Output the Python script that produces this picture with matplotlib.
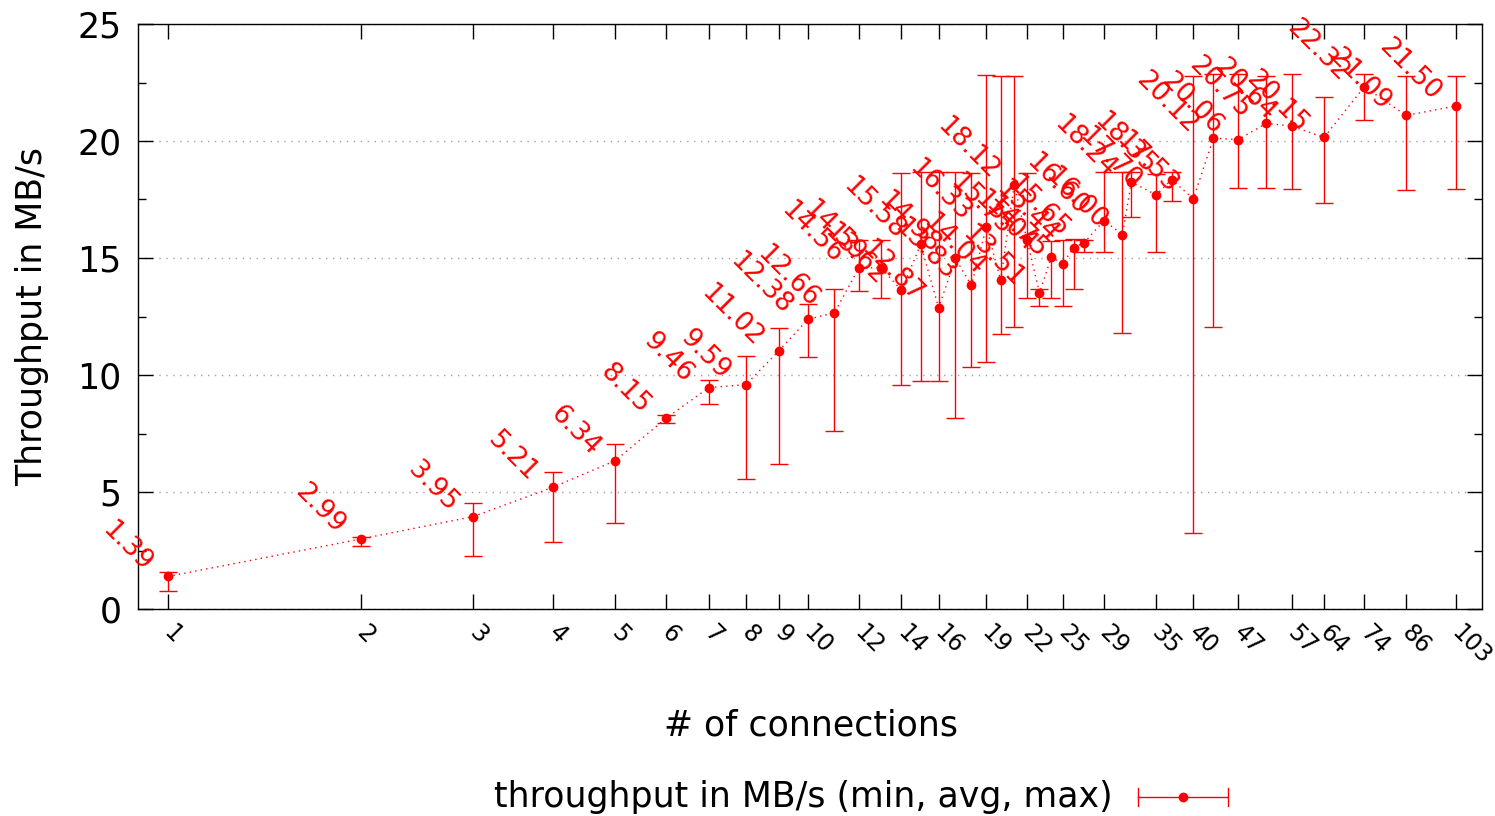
import matplotlib
matplotlib.use("Agg")
import matplotlib.pyplot as plt
import matplotlib.transforms as mtransforms
from matplotlib.lines import Line2D
import numpy as np

# ---- data ----
connections = [1, 2, 3, 4, 5, 6, 7, 8, 9, 10, 11, 12, 13, 14, 15, 16, 17, 18, 19, 20,
               21, 22, 23, 24, 25, 26, 27, 29, 31, 32, 35, 37, 40, 43, 47, 52, 57, 64,
               74, 86, 103]
avg_tp = [1.39, 2.99, 3.95, 5.21, 6.34, 8.15, 9.46, 9.59, 11.02, 12.38, 12.66, 14.56,
          14.59, 13.62, 15.58, 12.87, 14.98, 13.83, 16.33, 14.04, 18.12, 15.75, 13.51,
          15.04, 14.75, 15.44, 15.65, 16.60, 16.00, 18.24, 17.70, 18.35, 17.53, 20.12,
          20.06, 20.75, 20.64, 20.15, 22.32, 21.09, 21.50]
min_tp = [0.77, 2.71, 2.25, 2.85, 3.68, 7.94, 8.75, 5.54, 6.21, 10.75, 7.60, 13.60,
          13.28, 9.56, 9.76, 9.76, 8.18, 10.36, 10.54, 11.75, 12.04, 13.30, 12.95,
          13.28, 12.96, 13.68, 15.24, 15.27, 11.78, 16.77, 15.27, 17.42, 3.26, 12.04,
          17.98, 17.98, 17.95, 17.35, 20.90, 17.91, 17.96]
max_tp = [1.60, 3.09, 4.54, 5.84, 7.06, 8.28, 9.80, 10.80, 12.02, 13.05, 13.66, 15.77,
          15.77, 18.62, 18.66, 18.66, 18.69, 18.62, 22.82, 22.79, 22.79, 18.62, 13.69,
          15.74, 15.77, 15.80, 15.77, 18.66, 18.66, 18.69, 18.59, 18.69, 22.79, 22.85,
          22.85, 22.78, 22.86, 21.87, 22.85, 22.78, 22.78]
xtick_vals = [1, 2, 3, 4, 5, 6, 7, 8, 9, 10, 12, 14, 16, 19, 22, 25, 29, 35, 40, 47,
              57, 64, 74, 86, 103]
ytick_vals = [0, 5, 10, 15, 20, 25]

RED = "#ff0000"
W, H = 1495, 816
fig = plt.figure(figsize=(W / 100, H / 100), dpi=100)
ax = fig.add_axes([138 / W, 1 - 609 / H, (1482 - 138) / W, (609 - 24) / H])

x = np.array(connections, dtype=float)
y = np.array(avg_tp)
lo = y - np.array(min_tp)
hi = np.array(max_tp) - y

ax.plot(x, y, linestyle=(0, (1, 3)), color=RED, lw=1.0, zorder=3)
ax.errorbar(x, y, yerr=[lo, hi], fmt="o", color=RED, ms=6, elinewidth=1.0,
            capsize=6.5, capthick=1.0, zorder=4)

for xi, yi in zip(connections, avg_tp):
    ax.annotate(f"{yi:.2f}", (xi, yi), xytext=(-18, 3), textcoords="offset points",
                rotation=-45, rotation_mode="anchor", ha="right", va="baseline",
                color=RED, fontsize=19, clip_on=False, zorder=5)

ax.set_xscale("log")
ax.set_xlim(0.898, 113)
ax.set_ylim(0, 25)
ax.set_xticks(xtick_vals)
ax.set_xticklabels([str(v) for v in xtick_vals])
ax.xaxis.set_minor_locator(matplotlib.ticker.NullLocator())
ax.set_yticks(ytick_vals)
ax.set_yticks([2.5, 7.5, 12.5, 17.5, 22.5], minor=True)
ax.tick_params(axis="y", which="major", direction="in", length=11, width=1,
               left=True, right=True, labelsize=25, pad=12)
ax.tick_params(axis="y", which="minor", direction="in", length=6, width=1,
               left=True, right=True)
ax.tick_params(axis="x", which="major", direction="in", length=11, width=1,
               bottom=True, top=True, labelsize=17, pad=8)
for lab in ax.get_xticklabels():
    lab.set_rotation(-45)
    lab.set_ha("left")
    lab.set_va("top")
    lab.set_transform(lab.get_transform() +
                      mtransforms.ScaledTranslation(-9 / 100, 0, fig.dpi_scale_trans))

ax.grid(axis="y", which="major", color="#a0a0a0", linestyle=(0, (1, 4)), lw=1)
for s in ax.spines.values():
    s.set_linewidth(1.0)
    s.set_color("black")

fig.text(811 / W, 1 - 725 / H, "# of connections", ha="center", va="center", fontsize=25)
fig.text(32 / W, 1 - 317 / H, "Throughput in MB/s", ha="center", va="center",
         rotation=90, fontsize=25)

# legend
ly = 1 - 797 / H
fig.text(1113 / W, ly, "throughput in MB/s (min, avg, max)", ha="right", va="center",
         fontsize=25)
x0, x1 = 1138 / W, 1228 / W
ch = 9 / H
fig.add_artist(Line2D([x0, x1], [ly, ly], color=RED, lw=1, transform=fig.transFigure))
fig.add_artist(Line2D([x0, x0], [ly - ch, ly + ch], color=RED, lw=1, transform=fig.transFigure))
fig.add_artist(Line2D([x1, x1], [ly - ch, ly + ch], color=RED, lw=1, transform=fig.transFigure))
fig.add_artist(Line2D([(x0 + x1) / 2], [ly], color=RED, marker="o", ms=6, lw=0,
                      transform=fig.transFigure))

fig.savefig("out.png", dpi=100)
